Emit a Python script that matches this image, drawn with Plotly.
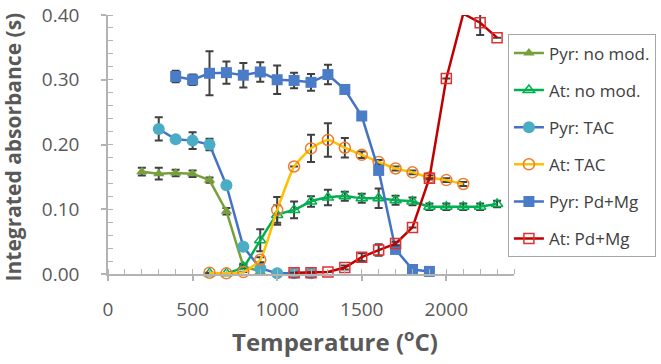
import plotly.graph_objects as go

# ---- data ----
names = ["Pyr: no mod.", "At: no mod.", "Pyr: TAC", "At: TAC", "Pyr: Pd+Mg", "At: Pd+Mg"]

pyr_nomod_T = [200, 300, 400, 500, 600, 700, 800, 900]
pyr_nomod_v = [0.158, 0.155, 0.156, 0.155, 0.145, 0.097, 0.012, 0.004]
pyr_nomod_e = [0.006, 0.009, 0.005, 0.005, 0.004, 0.005, 0.004, 0.003]

at_nomod_T = [600, 700, 800, 900, 1000, 1100, 1200, 1300, 1400, 1500, 1600, 1700, 1800, 1900, 2000, 2100, 2200, 2300]
at_nomod_v = [0.001, 0.001, 0.011, 0.052, 0.091, 0.099, 0.112, 0.118, 0.120, 0.117, 0.117, 0.114, 0.112, 0.104, 0.104, 0.104, 0.104, 0.108]
at_nomod_e = [0, 0, 0.003, 0.017, 0.015, 0.013, 0.008, 0.012, 0.007, 0.007, 0.015, 0.007, 0.006, 0.005, 0.005, 0.005, 0.005, 0.005]

pyr_tac_T = [300, 400, 500, 600, 700, 800, 900, 1000, 1100, 1200]
pyr_tac_v = [0.224, 0.208, 0.206, 0.200, 0.137, 0.042, 0.009, 0.001, 0.001, 0.001]
pyr_tac_e = [0.018, 0, 0.013, 0.009, 0, 0.005, 0, 0, 0, 0]

at_tac_T = [600, 700, 800, 900, 1000, 1100, 1200, 1300, 1400, 1500, 1600, 1700, 1800, 1900, 2000, 2100]
at_tac_v = [0.002, 0.001, 0.003, 0.022, 0.099, 0.166, 0.194, 0.207, 0.195, 0.184, 0.173, 0.163, 0.157, 0.149, 0.145, 0.139]
at_tac_e = [0, 0, 0, 0.004, 0.020, 0, 0.021, 0.026, 0.015, 0.005, 0.003, 0.003, 0.003, 0.003, 0.003, 0.003]

pyr_pd_T = [400, 500, 600, 700, 800, 900, 1000, 1100, 1200, 1300, 1400, 1500, 1600, 1700, 1800, 1900]
pyr_pd_v = [0.305, 0.300, 0.310, 0.311, 0.307, 0.312, 0.300, 0.299, 0.296, 0.308, 0.285, 0.244, 0.160, 0.038, 0.007, 0.004]
pyr_pd_e = [0.009, 0.008, 0.034, 0.017, 0.019, 0.015, 0.022, 0.012, 0.013, 0.015, 0, 0, 0, 0, 0, 0]

at_pd_T = [1100, 1200, 1300, 1400, 1500, 1600, 1700, 1800, 1900, 2000, 2100, 2200, 2300]
at_pd_v = [0.002, 0.002, 0.003, 0.010, 0.026, 0.037, 0.047, 0.072, 0.148, 0.302, 0.402, 0.388, 0.365]
at_pd_e = [0, 0, 0, 0.003, 0.006, 0.009, 0.003, 0, 0, 0, 0, 0.019, 0]

x_ticks = [0, 500, 1000, 1500, 2000]
y_ticks = [0.0, 0.1, 0.2, 0.3, 0.4]

x_title = "<b>Temperature (<sup>o</sup>C)</b>"
y_title = "<b>Integrated absorbance (s)</b>"

# ---- styles ----
series = [
    (pyr_nomod_T, pyr_nomod_v, pyr_nomod_e, "#77A03C", dict(symbol="triangle-up", size=10, color="#77A03C"), "linear", 0),
    (at_nomod_T, at_nomod_v, at_nomod_e, "#00B050", dict(symbol="triangle-up-open", size=10, color="#00B050", line=dict(width=1.5)), "spline", 0.5),
    (pyr_tac_T, pyr_tac_v, pyr_tac_e, "#4472C4", dict(symbol="circle", size=12, color="#4BACC6"), "linear", 0),
    (at_tac_T, at_tac_v, at_tac_e, "#FFC000", dict(symbol="circle-open", size=11, color="#ED7D31", line=dict(width=1.5)), "spline", 0.5),
    (pyr_pd_T, pyr_pd_v, pyr_pd_e, "#4472C4", dict(symbol="square", size=11, color="#4A7CC8"), "linear", 0),
    (at_pd_T, at_pd_v, at_pd_e, "#C00000", dict(symbol="square-open", size=10, color="#E03030", line=dict(width=1.5)), "linear", 0),
]

fig = go.Figure()
for i, (T, v, e, lc, mk, shape, sm) in enumerate(series):
    line = dict(color=lc, width=2.5, shape=shape)
    if shape == "spline":
        line["smoothing"] = sm
    fig.add_trace(go.Scatter(
        x=T, y=v, name=names[i], mode="lines+markers",
        line=line,
        marker=mk,
        cliponaxis=False,
        error_y=dict(type="data", array=e, visible=True, color="#404040", thickness=2, width=4),
        legendgroup=f"g{i}",
    ))

axis_col = "#B3B3B3"
fig.update_layout(
    width=661, height=364,
    margin=dict(l=108, r=147, t=15, b=90, autoexpand=False),
    plot_bgcolor="white", paper_bgcolor="white",
    font=dict(family="Open Sans, Noto Sans, sans-serif", color="#595959", size=18),
    showlegend=True,
    legend=dict(
        x=0.985, y=0.925, xanchor="left", yanchor="top",
        bordercolor="#A6A6A6", borderwidth=1, bgcolor="white",
        font=dict(size=17, color="#404040"),
        tracegroupgap=12,
    ),
    xaxis=dict(
        range=[0, 2400], tickvals=x_ticks, showgrid=False, zeroline=False, automargin=False,
        showline=True, linecolor=axis_col, linewidth=1.5,
        ticks="outside", ticklen=5, tickcolor=axis_col, tickwidth=1.5,
        minor=dict(dtick=100, ticks="inside", ticklen=5, tickcolor=axis_col, tickwidth=1),
        tickfont=dict(size=19), ticklabelstandoff=12,
    ),
    yaxis=dict(
        range=[0, 0.4], tickvals=y_ticks, tickformat=".2f", showgrid=False, zeroline=False, automargin=False,
        showline=True, linecolor=axis_col, linewidth=1.5,
        ticks="outside", ticklen=5, tickcolor=axis_col, tickwidth=1.5,
        minor=dict(dtick=0.02, ticks="inside", ticklen=5, tickcolor=axis_col, tickwidth=1),
        tickfont=dict(size=19), ticklabelstandoff=18,
    ),
    annotations=[
        dict(text=x_title, xref="paper", yref="paper", x=0.559, y=-0.255, xanchor="center", yanchor="middle",
             showarrow=False, font=dict(size=24, color="#595959")),
        dict(text=y_title, xref="paper", yref="paper", x=-0.233, y=0.49, xanchor="center", yanchor="middle",
             textangle=-90, showarrow=False, font=dict(size=21, color="#595959")),
    ],
)

fig.write_html("out.html")
